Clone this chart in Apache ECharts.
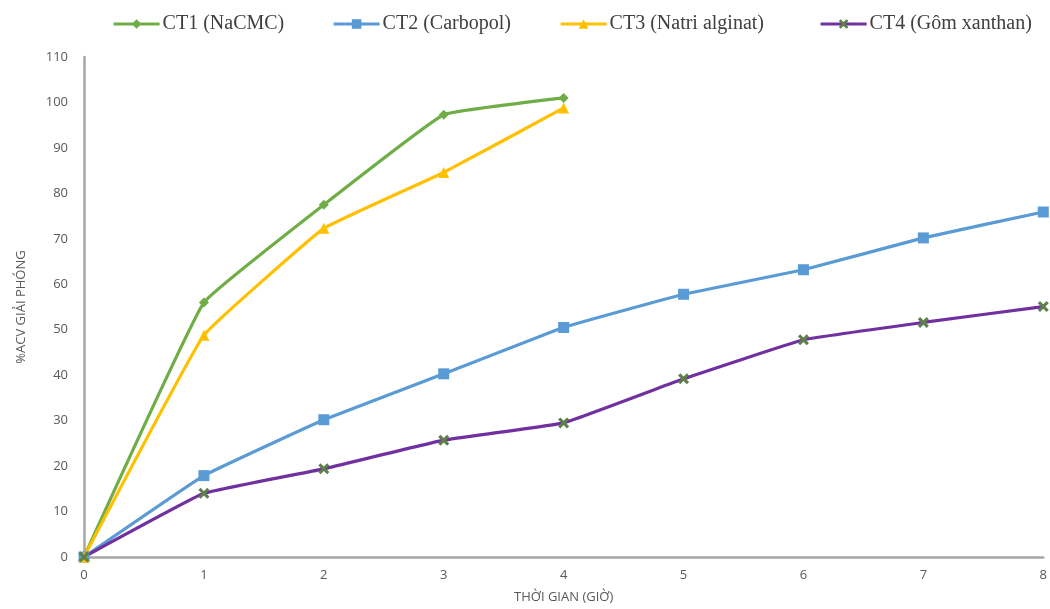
<!DOCTYPE html>
<html>
<head>
<meta charset="utf-8">
<script src="https://cdn.jsdelivr.net/npm/echarts@6/dist/echarts.min.js"></script>
<style>
  html, body { margin: 0; padding: 0; background: #fff; }
  #chart { width: 1050px; height: 609px; }
</style>
</head>
<body>
<div id="chart"></div>
<script>
  // thời gian (giờ)
  const hours = [0, 1, 2, 3, 4, 5, 6, 7, 8];
  const ct1 = [0, 56.0, 77.5, 97.3, 101.0];
  const ct2 = [0, 17.9, 30.2, 40.3, 50.5, 57.8, 63.2, 70.2, 75.9];
  const ct3 = [0, 48.8, 72.3, 84.6, 98.8];
  const ct4 = [0, 14.0, 19.4, 25.7, 29.5, 39.2, 47.8, 51.6, 55.1];
  const seriesNames = ['CT1 (NaCMC)', 'CT2 (Carbopol)', 'CT3 (Natri alginat)', 'CT4 (Gôm xanthan)'];

  const pairs = arr => arr.map((v, i) => [hours[i], v]);
  const crossPath = 'path://M2,0 L5,3 L8,0 L10,2 L7,5 L10,8 L8,10 L5,7 L2,10 L0,8 L3,5 L0,2 Z';

  const chart = echarts.init(document.getElementById('chart'));

  function lineSeries(name, data, color, symbol, size, symbolColor) {
    return {
      name: name,
      type: 'line',
      data: pairs(data),
      smooth: 0.08,
      symbol: symbol,
      symbolSize: size,
      showAllSymbol: true,
      lineStyle: { color: color, width: 3.2 },
      itemStyle: { color: symbolColor || color },
      emphasis: { disabled: true }
    };
  }

  // một legend cho mỗi chuỗi để đặt đúng vị trí
  const legendLeft = [107, 327, 554, 814];
  const legends = seriesNames.map((n, i) => ({
    top: 9,
    left: legendLeft[i],
    itemWidth: 46,
    itemHeight: 12,
    itemGap: 4,
    lineStyle: { width: 3.2 },
    textStyle: { fontFamily: 'Liberation Serif', fontSize: 20, color: '#404040', padding: [0, 0, 0, -2] },
    data: [n]
  }));

  chart.setOption({
    backgroundColor: '#FFFFFF',
    animation: false,
    legend: legends,
    grid: { left: 84, right: 5, top: 57, bottom: 49 },
    xAxis: {
      type: 'value',
      min: 0,
      max: 8,
      interval: 1,
      name: 'THỜI GIAN (GIỜ)',
      nameLocation: 'middle',
      nameGap: 34,
      nameTextStyle: { fontFamily: 'Open Sans', fontSize: 13, color: '#595959' },
      axisLine: { lineStyle: { color: '#A6A6A6', width: 2.5 } },
      axisTick: { show: false },
      splitLine: { show: false },
      axisLabel: { fontFamily: 'Open Sans', fontSize: 13, color: '#595959', margin: 12 }
    },
    yAxis: {
      type: 'value',
      min: 0,
      max: 110,
      interval: 10,
      name: '%ACV GIẢI PHÓNG',
      nameLocation: 'middle',
      nameGap: 56,
      nameTextStyle: { fontFamily: 'Open Sans', fontSize: 13, color: '#595959' },
      axisLine: { show: true, lineStyle: { color: '#A6A6A6', width: 2.5 } },
      axisTick: { show: false },
      splitLine: { show: false },
      axisLabel: { fontFamily: 'Open Sans', fontSize: 13, color: '#595959', margin: 16 }
    },
    series: [
      lineSeries(seriesNames[0], ct1, '#70AD47', 'diamond', 10),
      lineSeries(seriesNames[1], ct2, '#5B9BD5', 'rect', 11),
      lineSeries(seriesNames[2], ct3, '#FFC000', 'triangle', 11),
      lineSeries(seriesNames[3], ct4, '#7030A0', crossPath, 11, '#5E7F4A')
    ]
  });
</script>
</body>
</html>
